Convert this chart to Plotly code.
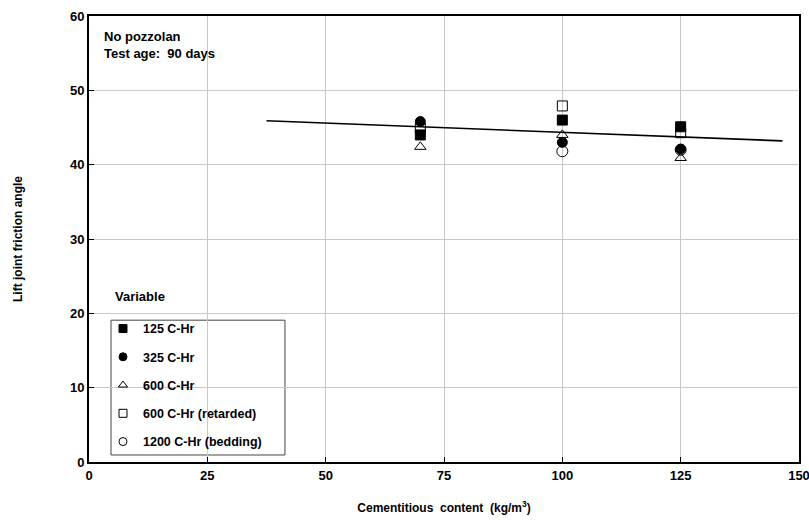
import plotly.graph_objects as go

x_vals = [70, 100, 125]
s125 = [44.0, 46.0, 45.1]
s325 = [45.8, 43.0, 42.1]
s600 = [42.4, 44.0, 40.9]
s600r = [44.9, 47.9, 44.3]
s1200 = [None, 41.8, 42.0]

trend_x = [37.5, 146.5]
trend_y = [45.9, 43.2]

x_ticks = [0, 25, 50, 75, 100, 125, 150]
y_ticks = [0, 10, 20, 30, 40, 50, 60]

FONT = "Liberation Sans, Arial, sans-serif"

fig = go.Figure()

fig.add_trace(go.Scatter(x=trend_x, y=trend_y, mode="lines",
                         line=dict(color="black", width=1.6),
                         showlegend=False, hoverinfo="skip"))

series = [
    ("125 C-Hr", s125, "square", 10),
    ("325 C-Hr", s325, "circle", 10),
    ("600 C-Hr", s600, "triangle-up-open", 10),
    ("600 C-Hr (retarded)", s600r, "square-open", 10),
    ("1200 C-Hr (bedding)", s1200, "circle-open", 11),
]
for i, (name, ys, sym, sz) in enumerate(series):
    fig.add_trace(go.Scatter(
        x=x_vals, y=ys, mode="markers", name=name, legendgroup=f"g{i}",
        showlegend=False,
        marker=dict(symbol=sym, size=sz, color="black",
                    line=dict(color="black", width=1)),
    ))
    # legend entry with the smaller key marker used in the reference
    fig.add_trace(go.Scatter(
        x=[None], y=[None], mode="markers", name=name, legendgroup=f"g{i}",
        showlegend=True, hoverinfo="skip",
        marker=dict(symbol=sym, size=8, color="black",
                    line=dict(color="black", width=1)),
    ))

fig.update_layout(
    width=809, height=524,
    margin=dict(l=89, r=10, t=16, b=62),
    paper_bgcolor="white", plot_bgcolor="white",
    font=dict(family=FONT, size=13, color="black"),
    showlegend=True,
    legend=dict(
        x=0.0197, y=0.332, xanchor="left", yanchor="top",
        bgcolor="rgba(0,0,0,0)", borderwidth=0,
        font=dict(family=FONT, size=12.5, color="black", weight="bold"),
        tracegroupgap=9,
    ),
    shapes=[
        dict(type="rect", xref="paper", yref="paper",
             x0=0.031, x1=0.276, y0=0.0157, y1=0.318,
             line=dict(color="#444", width=1), fillcolor="white", layer="below"),
    ],
    xaxis=dict(
        range=[0, 150], tickvals=x_ticks, ticktext=[str(v) for v in x_ticks],
        showgrid=True, gridcolor="#c8c8c8", gridwidth=1,
        showline=True, linecolor="black", linewidth=2, mirror=True,
        ticks="inside", ticklen=5, tickcolor="black",
        tickfont=dict(size=13, weight="bold"), ticklabeloverflow="allow",
        title=dict(text="Cementitious  content  (kg/m<sup>3</sup>)",
                   font=dict(size=12, weight="bold"), standoff=22),
        zeroline=False, automargin=False,
    ),
    yaxis=dict(
        range=[0, 60], tickvals=y_ticks, ticktext=[str(v) for v in y_ticks],
        showgrid=True, gridcolor="#c8c8c8", gridwidth=1,
        showline=True, linecolor="black", linewidth=2, mirror=True,
        ticks="inside", ticklen=5, tickcolor="black",
        tickfont=dict(size=13, weight="bold"), ticklabeloverflow="allow",
        title=dict(text="Lift joint friction angle",
                   font=dict(size=12, weight="bold"), standoff=45),
        zeroline=False, automargin=False,
    ),
    annotations=[
        dict(text="No pozzolan<br>Test age:  90 days", x=0.018, y=0.975,
             xref="paper", yref="paper", xanchor="left", yanchor="top",
             align="left", showarrow=False,
             font=dict(size=13, weight="bold")),
        dict(text="Variable", x=0.034, y=0.37, xref="paper", yref="paper",
             xanchor="left", yanchor="middle", showarrow=False,
             font=dict(size=13, weight="bold")),
    ],
)

fig.write_html("out.html")
